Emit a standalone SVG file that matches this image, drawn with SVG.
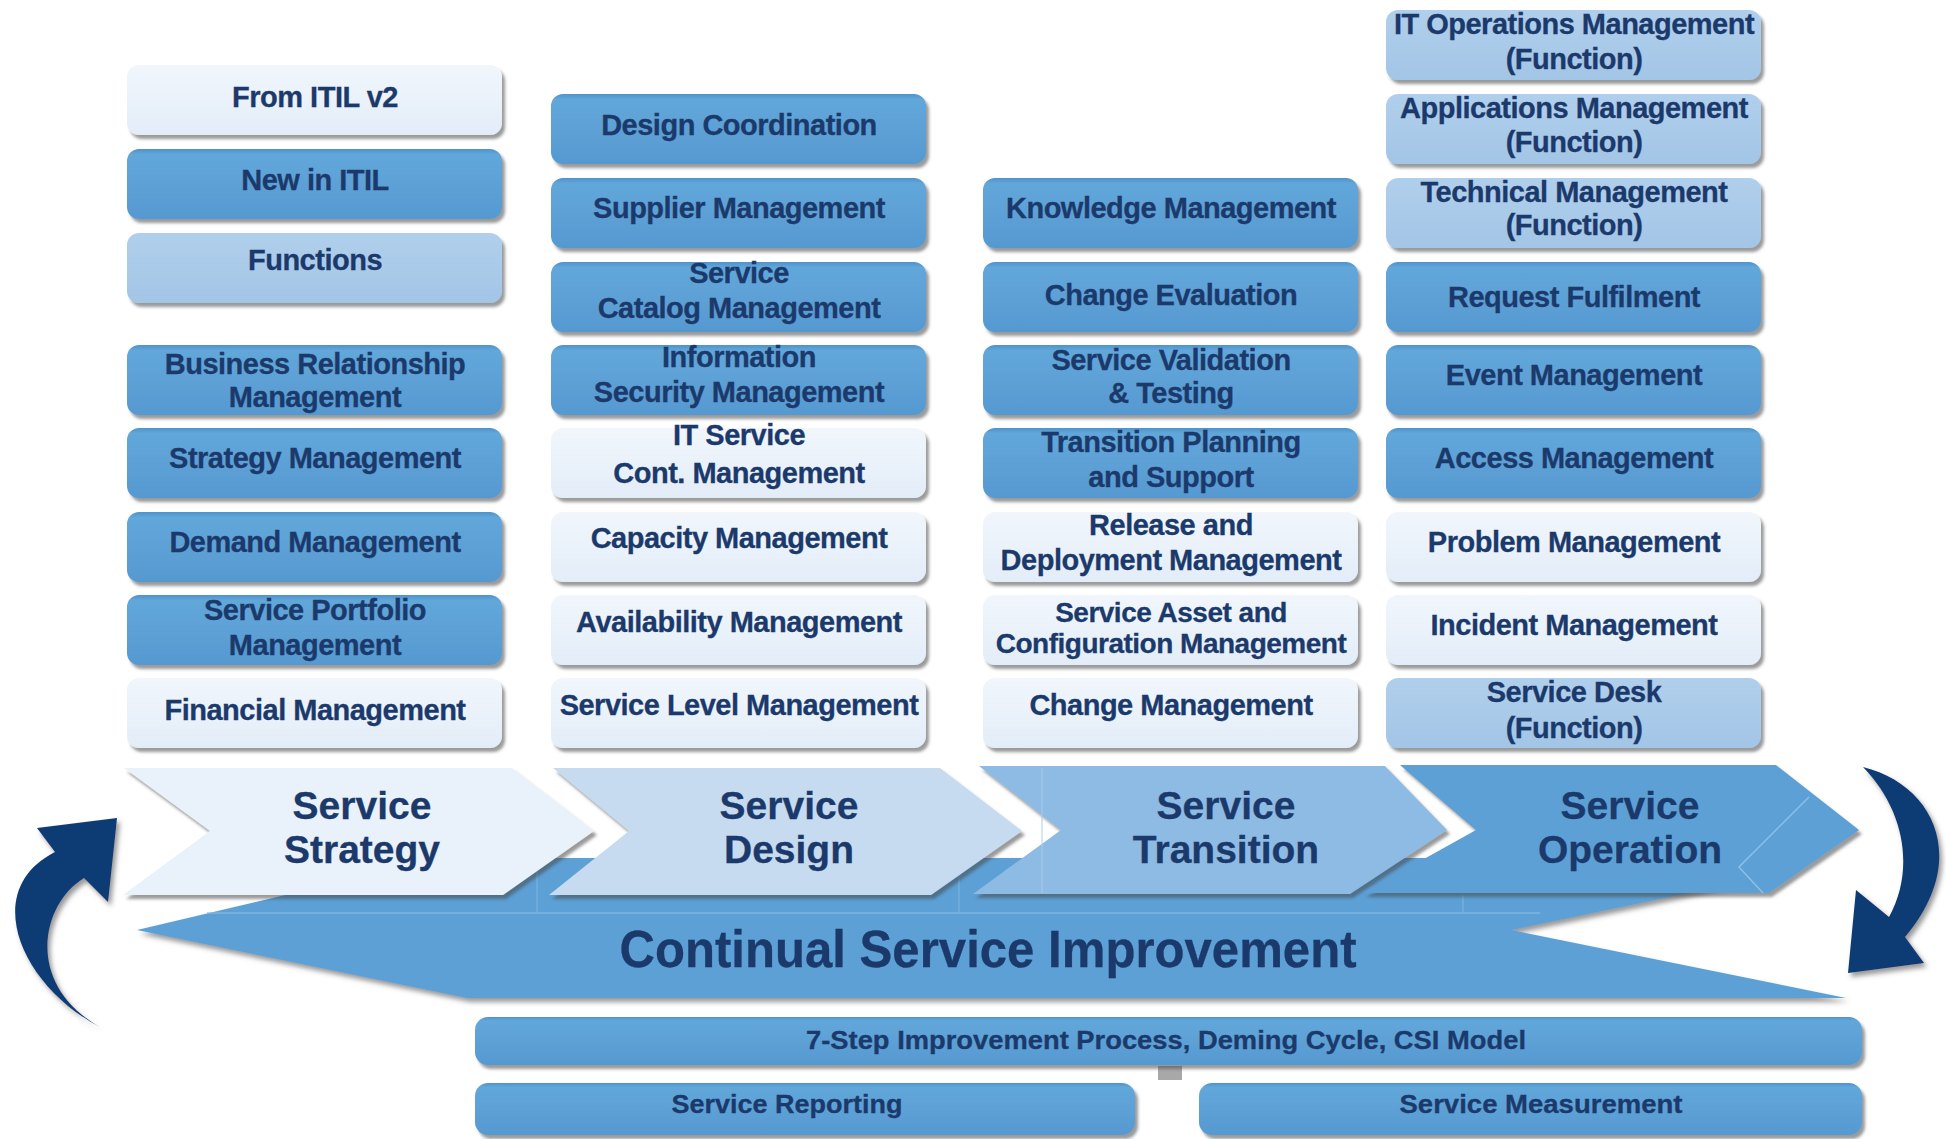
<svg xmlns="http://www.w3.org/2000/svg" width="1946" height="1139" viewBox="0 0 1946 1139">
<defs>
<linearGradient id="gLt" x1="0" y1="0" x2="0" y2="1"><stop offset="0" stop-color="#F1F6FC"/><stop offset="1" stop-color="#E3EDF8"/></linearGradient>
<linearGradient id="gMed" x1="0" y1="0" x2="0" y2="1"><stop offset="0" stop-color="#4E93CC"/><stop offset="0.08" stop-color="#62A7DA"/><stop offset="1" stop-color="#5699D1"/></linearGradient>
<linearGradient id="gFn" x1="0" y1="0" x2="0" y2="1"><stop offset="0" stop-color="#B0CFEC"/><stop offset="1" stop-color="#A3C5E6"/></linearGradient>
<filter id="sh" x="-5%" y="-10%" width="115%" height="140%"><feDropShadow dx="3" dy="4" stdDeviation="1.8" flood-color="#4a4a4a" flood-opacity="0.55"/></filter>
<filter id="sh2" x="-10%" y="-10%" width="125%" height="130%"><feDropShadow dx="3" dy="4" stdDeviation="2.5" flood-color="#555" flood-opacity="0.6"/></filter>
<style>
.b{filter:url(#sh)}
.med{fill:url(#gMed)}
.lt{fill:url(#gLt)}
.fn{fill:url(#gFn)}
.t{font-family:"Liberation Sans",Arial,sans-serif;font-weight:700;font-size:29px;fill:#1B3A6B;stroke:#1B3A6B;stroke-width:0.3px;text-anchor:middle;letter-spacing:-0.5px}
.ct{font-size:39px;letter-spacing:0}
.bt{font-size:26px;letter-spacing:0}
.sm{font-size:28px}
.chev{filter:url(#sh)}
.arr{fill:#0B3A73;filter:url(#sh2)}
</style>
</defs>
<rect width="1946" height="1139" fill="#FFFFFF"/>

<!-- Continual Service Improvement base shape -->
<g id="csi">
<polygon points="137,930 442,858 1775,858 1775,875 1511,930 1846,998 467,998" fill="#5BA0D6" filter="url(#sh2)"/>
<line x1="207" y1="913" x2="1540" y2="913" stroke="#86BBE4" stroke-width="1.5" opacity="0.8"/>
<line x1="537" y1="860" x2="537" y2="912" stroke="#86BBE4" stroke-width="1.2" opacity="0.7"/>
<line x1="959" y1="860" x2="959" y2="912" stroke="#86BBE4" stroke-width="1.2" opacity="0.7"/>
<line x1="1463" y1="895" x2="1463" y2="912" stroke="#86BBE4" stroke-width="1.2" opacity="0.7"/>
<text class="t" x="988" y="967" style="font-size:52px;letter-spacing:0" textLength="737" lengthAdjust="spacingAndGlyphs">Continual Service Improvement</text>
</g>

<!-- Lifecycle chevrons -->
<g id="chev-strategy">
<polygon class="chev" points="124,768 512,768 594,831 503,895 123,895 210,831" fill="#E9F1FA"/>
<text class="t ct" x="362" y="819">Service</text>
<text class="t ct" x="362" y="863">Strategy</text>
</g>
<g id="chev-design">
<polygon class="chev" points="553,768 940,768 1022,831 931,895 549,895 629,831" fill="#C6DBF0"/>
<text class="t ct" x="789" y="819">Service</text>
<text class="t ct" x="789" y="863">Design</text>
</g>
<g id="chev-transition">
<polygon class="chev" points="979,766 1385,766 1447,830 1350,894 973,894 1061,830" fill="#8EBBE4"/>
<line x1="1042" y1="768" x2="1042" y2="893" stroke="#A9CCEC" stroke-width="1.2" opacity="0.8"/>
<text class="t ct" x="1226" y="819">Service</text>
<text class="t ct" x="1226" y="863">Transition</text>
</g>
<g id="chev-operation">
<polygon class="chev" points="1400,765 1776,765 1859,830 1769,893 1363,893 1476,830" fill="#5BA0D6"/>
<polyline points="1809,797 1739,867 1763,893" fill="none" stroke="#8CC0E8" stroke-width="1.5"/>
<text class="t ct" x="1630" y="819">Service</text>
<text class="t ct" x="1630" y="863">Operation</text>
</g>

<!-- Column 1 : legend + Service Strategy -->
<g id="legend-v2"><rect class="b lt" x="127" y="65" width="375" height="70" rx="12"/><text class="t" x="315" y="107">From ITIL v2</text></g>
<g id="legend-new"><rect class="b med" x="127" y="149" width="375" height="70" rx="12"/><text class="t" x="315" y="190">New in ITIL</text></g>
<g id="legend-func"><rect class="b fn" x="127" y="233" width="375" height="70" rx="12"/><text class="t" x="315" y="270">Functions</text></g>

<g id="ss-brm"><rect class="b med" x="127" y="345" width="375" height="70" rx="12"/><text class="t" x="315" y="374">Business Relationship</text><text class="t" x="315" y="407">Management</text></g>
<g id="ss-strategy"><rect class="b med" x="127" y="428" width="375" height="70" rx="12"/><text class="t" x="315" y="468">Strategy Management</text></g>
<g id="ss-demand"><rect class="b med" x="127" y="512" width="375" height="70" rx="12"/><text class="t" x="315" y="552">Demand Management</text></g>
<g id="ss-portfolio"><rect class="b med" x="127" y="595" width="375" height="70" rx="12"/><text class="t" x="315" y="620">Service Portfolio</text><text class="t" x="315" y="655">Management</text></g>
<g id="ss-financial"><rect class="b lt" x="127" y="678" width="375" height="70" rx="12"/><text class="t" x="315" y="720">Financial Management</text></g>

<!-- Column 2 : Service Design -->
<g id="sd-coord"><rect class="b med" x="551" y="94" width="375" height="70" rx="12"/><text class="t" x="739" y="135">Design Coordination</text></g>
<g id="sd-supplier"><rect class="b med" x="551" y="178" width="375" height="70" rx="12"/><text class="t" x="739" y="218">Supplier Management</text></g>
<g id="sd-catalog"><rect class="b med" x="551" y="262" width="375" height="70" rx="12"/><text class="t" x="739" y="283">Service</text><text class="t" x="739" y="318">Catalog Management</text></g>
<g id="sd-security"><rect class="b med" x="551" y="345" width="375" height="70" rx="12"/><text class="t" x="739" y="367">Information</text><text class="t" x="739" y="402">Security Management</text></g>
<g id="sd-itscm"><rect class="b lt" x="551" y="428" width="375" height="70" rx="12"/><text class="t" x="739" y="445">IT Service</text><text class="t" x="739" y="483">Cont. Management</text></g>
<g id="sd-capacity"><rect class="b lt" x="551" y="512" width="375" height="70" rx="12"/><text class="t" x="739" y="548">Capacity Management</text></g>
<g id="sd-availability"><rect class="b lt" x="551" y="595" width="375" height="70" rx="12"/><text class="t" x="739" y="632">Availability Management</text></g>
<g id="sd-slm"><rect class="b lt" x="551" y="678" width="375" height="70" rx="12"/><text class="t" x="739" y="715">Service Level Management</text></g>

<!-- Column 3 : Service Transition -->
<g id="st-knowledge"><rect class="b med" x="983" y="178" width="375" height="70" rx="12"/><text class="t" x="1171" y="218">Knowledge Management</text></g>
<g id="st-evaluation"><rect class="b med" x="983" y="262" width="375" height="70" rx="12"/><text class="t" x="1171" y="305">Change Evaluation</text></g>
<g id="st-svt"><rect class="b med" x="983" y="345" width="375" height="70" rx="12"/><text class="t" x="1171" y="370">Service Validation</text><text class="t" x="1171" y="403">&amp; Testing</text></g>
<g id="st-tps"><rect class="b med" x="983" y="428" width="375" height="70" rx="12"/><text class="t" x="1171" y="452">Transition Planning</text><text class="t" x="1171" y="487">and Support</text></g>
<g id="st-release"><rect class="b lt" x="983" y="512" width="375" height="70" rx="12"/><text class="t" x="1171" y="535">Release and</text><text class="t" x="1171" y="570">Deployment Management</text></g>
<g id="st-sacm"><rect class="b lt" x="983" y="595" width="375" height="70" rx="12"/><text class="t sm" x="1171" y="622">Service Asset and</text><text class="t sm" x="1171" y="653">Configuration Management</text></g>
<g id="st-change"><rect class="b lt" x="983" y="678" width="375" height="70" rx="12"/><text class="t" x="1171" y="715">Change Management</text></g>

<!-- Column 4 : Service Operation -->
<g id="so-itops"><rect class="b fn" x="1386" y="10" width="375" height="70" rx="12"/><text class="t" x="1574" y="34">IT Operations Management</text><text class="t" x="1574" y="69">(Function)</text></g>
<g id="so-apps"><rect class="b fn" x="1386" y="94" width="375" height="70" rx="12"/><text class="t" x="1574" y="118">Applications Management</text><text class="t" x="1574" y="152">(Function)</text></g>
<g id="so-tech"><rect class="b fn" x="1386" y="178" width="375" height="70" rx="12"/><text class="t" x="1574" y="202">Technical Management</text><text class="t" x="1574" y="235">(Function)</text></g>
<g id="so-request"><rect class="b med" x="1386" y="262" width="375" height="70" rx="12"/><text class="t" x="1574" y="307">Request Fulfilment</text></g>
<g id="so-event"><rect class="b med" x="1386" y="345" width="375" height="70" rx="12"/><text class="t" x="1574" y="385">Event Management</text></g>
<g id="so-access"><rect class="b med" x="1386" y="428" width="375" height="70" rx="12"/><text class="t" x="1574" y="468">Access Management</text></g>
<g id="so-problem"><rect class="b lt" x="1386" y="512" width="375" height="70" rx="12"/><text class="t" x="1574" y="552">Problem Management</text></g>
<g id="so-incident"><rect class="b lt" x="1386" y="595" width="375" height="70" rx="12"/><text class="t" x="1574" y="635">Incident Management</text></g>
<g id="so-desk"><rect class="b fn" x="1386" y="678" width="375" height="70" rx="12"/><text class="t" x="1574" y="702">Service Desk</text><text class="t" x="1574" y="738">(Function)</text></g>

<!-- CSI supporting bars -->
<rect x="1158" y="1066" width="24" height="14" fill="#A8A8A8"/>
<g id="csi-7step"><rect class="b med" x="475" y="1017" width="1387" height="48" rx="13"/><text class="t bt" x="1166" y="1049" textLength="720" lengthAdjust="spacingAndGlyphs">7-Step Improvement Process, Deming Cycle, CSI Model</text></g>
<g id="csi-reporting"><rect class="b med" x="475" y="1083" width="660" height="52" rx="13"/><text class="t bt" x="787" y="1113" textLength="231" lengthAdjust="spacingAndGlyphs">Service Reporting</text></g>
<g id="csi-measurement"><rect class="b med" x="1199" y="1083" width="663" height="52" rx="13"/><text class="t bt" x="1541" y="1113" textLength="283" lengthAdjust="spacingAndGlyphs">Service Measurement</text></g>

<!-- Cycle arrows -->
<g id="connectors">
<path class="arr" d="M 100 1027 C 20 985, -20 890, 55 852 L 37 828 L 117 818 L 108 902 L 84 878 C 40 905, 25 985, 100 1027 Z"/>
<path class="arr" d="M 1863 767 C 1935 785, 1970 860, 1905 937 L 1924 963 L 1848 973 L 1856 890 L 1889 917 C 1915 870, 1905 810, 1863 767 Z"/>
</g>
</svg>
